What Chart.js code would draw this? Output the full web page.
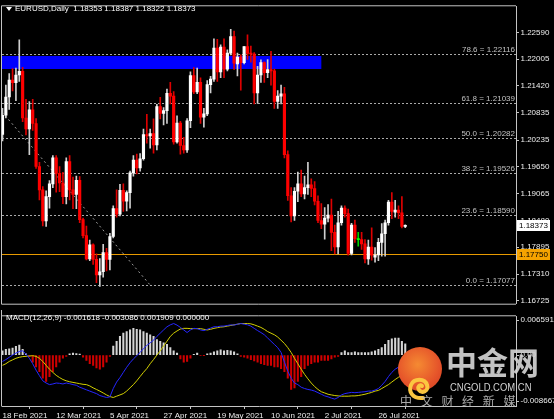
<!DOCTYPE html>
<html><head><meta charset="utf-8">
<script src="https://cdn.jsdelivr.net/npm/chart.js@4.4.1/dist/chart.umd.min.js"></script>
<style>
html,body{margin:0;padding:0;background:#000;}
#wrap{position:relative;width:554px;height:419px;overflow:hidden;background:#000;font-family:'Liberation Sans',Arial,sans-serif;}
canvas{position:absolute;left:0;}
.t{position:absolute;white-space:pre;color:#fff;font-size:8px;line-height:10px;}
.tri{position:absolute;left:6px;top:7px;width:0;height:0;border-left:3.5px solid transparent;border-right:3.5px solid transparent;border-top:4px solid #fff;}
.wm{position:absolute;white-space:pre;}
</style></head><body>
<div id="wrap">
<canvas id="main" width="554" height="310" style="top:0"></canvas>
<canvas id="macd" width="554" height="109" style="top:310px"></canvas>
<div class="tri"></div>
<div class="t" style="left:15px;top:4px">EURUSD,Daily  1.18353 1.18387 1.18322 1.18373</div>
<div class="t" style="left:6px;top:313px">MACD(12,26,9) -0.001618 -0.003086 0.001909 0.000000</div>
<div class="wm" style="left:398px;top:347px;width:44px;height:44px;border-radius:50%;background:radial-gradient(circle at 45% 40%,#f58a32 0%,#e5532a 60%,#cc3a1f 100%);">
<svg width="44" height="44" viewBox="0 0 44 44"><path d="M25 33 C15 34 10 27 13 20 C16 13 27 13 29 20 C31 26 24 29 21 25 C19 22 22 19 24 21" stroke="#fbc640" stroke-width="4" fill="none" stroke-linecap="round"/></svg>
</div>
<div class="wm" style="left:446px;top:344px;font-family:'Noto Sans CJK SC';font-weight:bold;font-size:31px;line-height:34px;color:rgba(210,210,210,0.92);">中金网</div>
<div class="wm" style="left:450px;top:381px;font-family:'Liberation Sans';font-size:11px;line-height:12px;color:#d0d0d0;transform:scaleX(0.86);transform-origin:left top;">CNGOLD.COM.CN</div>
<div class="wm" style="left:400px;top:394px;font-family:'Noto Sans CJK SC';font-size:12px;line-height:14px;letter-spacing:3px;color:rgba(190,190,190,0.9);">中 文 财 经 新 媒</div>
</div>
<script>
// ---------- DATA ----------
const opens = [1.2036,1.2078,1.2118,1.2155,1.2149,1.2166,1.2174,1.2072,1.2048,1.2090,
1.2060,1.1966,1.1915,1.1847,1.1900,1.1928,1.1985,1.1951,1.1930,1.1900,
1.1977,1.1915,1.1905,1.1936,1.1850,1.1815,1.1764,1.1795,1.1763,1.1729,
1.1736,1.1778,1.1763,1.1813,1.1874,1.1862,1.1914,1.1890,1.1909,1.1952,
1.1980,1.1963,1.1983,1.2036,1.2033,1.2038,1.2013,1.2097,1.2082,1.2088,
1.2126,1.2120,1.2020,1.2061,1.2012,1.2002,1.2066,1.2165,1.2129,1.2150,
1.2074,1.2081,1.2145,1.2157,1.2225,1.2173,1.2227,1.2179,1.2214,1.2250,
1.2190,1.2205,1.2193,1.2228,1.2213,1.2212,1.2127,1.2166,1.2193,1.2171,
1.2178,1.2175,1.2108,1.2120,1.2125,1.1992,1.1902,1.1858,1.1912,1.1928,
1.1906,1.1920,1.1926,1.1918,1.1890,1.1848,1.1840,1.1853,1.1860,1.1822,
1.1790,1.1843,1.1875,1.1863,1.1776,1.1838,1.1806,1.1806,1.1797,1.1764,
1.1790,1.1768,1.1773,1.1800,1.1819,1.1843,1.1888,1.1866,1.1871,1.1865,
1.18353];
const highs = [1.2093,1.2144,1.2169,1.2180,1.2181,1.2243,1.2183,1.2113,1.2108,1.2113,
1.2071,1.1975,1.1922,1.1913,1.1935,1.1990,1.1990,1.1966,1.1953,1.1985,
1.1990,1.1943,1.1945,1.1944,1.1853,1.1836,1.1805,1.1797,1.1775,1.1765,
1.1796,1.1787,1.1820,1.1880,1.1915,1.1927,1.1928,1.1913,1.1956,1.1990,
1.1993,1.1994,1.2048,1.2080,1.2048,1.2070,1.2102,1.2117,1.2095,1.2135,
1.2150,1.2130,1.2077,1.2065,1.2030,1.2071,1.2173,1.2182,1.2181,1.2160,
1.2093,1.2154,1.2163,1.2245,1.2244,1.2232,1.2245,1.2221,1.2266,1.2262,
1.2214,1.2210,1.2228,1.2254,1.2229,1.2215,1.2185,1.2199,1.2195,1.2200,
1.2218,1.2179,1.2132,1.2144,1.2139,1.2000,1.1920,1.1920,1.1954,1.1958,
1.1945,1.1975,1.1939,1.1933,1.1902,1.1885,1.1876,1.1883,1.1895,1.1838,
1.1868,1.1880,1.1880,1.1873,1.1842,1.1849,1.1822,1.1822,1.1806,1.1805,
1.1832,1.1789,1.1809,1.1841,1.1849,1.1892,1.1909,1.1892,1.1880,1.1900,
1.18387];
const lows = [1.2022,1.2072,1.2091,1.2131,1.2110,1.2152,1.2064,1.2035,1.1992,1.2045,
1.1962,1.1893,1.1836,1.1835,1.1875,1.1920,1.1910,1.1911,1.1885,1.1884,
1.1893,1.1874,1.1874,1.1843,1.1810,1.1762,1.1760,1.1752,1.1712,1.1704,
1.1724,1.1738,1.1740,1.1810,1.1855,1.1858,1.1868,1.1869,1.1875,1.1945,
1.1950,1.1956,1.1980,1.2017,1.2006,1.1995,1.2002,1.2070,1.2057,1.2060,
1.2103,1.2015,1.2017,1.1993,1.1995,1.1997,1.2051,1.2125,1.2125,1.2060,
1.2052,1.2077,1.2127,1.2152,1.2152,1.2160,1.2160,1.2175,1.2210,1.2178,
1.2164,1.2133,1.2190,1.2200,1.2194,1.2103,1.2104,1.2150,1.2150,1.2160,
1.2144,1.2093,1.2093,1.2103,1.1985,1.1892,1.1845,1.1848,1.1889,1.1900,
1.1895,1.1905,1.1900,1.1882,1.1843,1.1830,1.1807,1.1845,1.1782,1.1775,
1.1775,1.1838,1.1855,1.1772,1.1773,1.1800,1.1792,1.1785,1.1755,1.1752,
1.1761,1.1757,1.1760,1.1770,1.1770,1.1838,1.1852,1.1855,1.1852,1.1832,
1.18322];
const closes = [1.2078,1.2118,1.2155,1.2149,1.2166,1.2174,1.2072,1.2048,1.2090,1.2060,
1.1966,1.1915,1.1847,1.1900,1.1928,1.1985,1.1951,1.1930,1.1900,1.1977,
1.1915,1.1905,1.1936,1.1850,1.1815,1.1764,1.1795,1.1763,1.1729,1.1736,
1.1778,1.1763,1.1813,1.1874,1.1862,1.1914,1.1890,1.1909,1.1952,1.1980,
1.1963,1.1983,1.2036,1.2033,1.2038,1.2013,1.2097,1.2082,1.2088,1.2126,
1.2120,1.2020,1.2061,1.2012,1.2002,1.2066,1.2165,1.2129,1.2150,1.2074,
1.2081,1.2145,1.2157,1.2225,1.2173,1.2227,1.2179,1.2214,1.2250,1.2192,
1.2205,1.2193,1.2228,1.2213,1.2212,1.2127,1.2166,1.2193,1.2171,1.2178,
1.2175,1.2108,1.2120,1.2125,1.1992,1.1902,1.1858,1.1912,1.1928,1.1906,
1.1920,1.1926,1.1918,1.1890,1.1848,1.1840,1.1853,1.1860,1.1822,1.1790,
1.1843,1.1875,1.1863,1.1776,1.1838,1.1808,1.1806,1.1797,1.1764,1.1790,
1.1772,1.1773,1.1800,1.1819,1.1843,1.1888,1.1868,1.1871,1.1865,1.1835,
1.18373];

const macdMain = [-0.00109,-0.00077,-0.00038,0.00000,0.00033,0.00060,0.00071,0.00016,-0.00055,-0.00148,
-0.00257,-0.00350,-0.00438,-0.00476,-0.00503,-0.00492,-0.00476,-0.00481,-0.00492,-0.00476,
-0.00487,-0.00503,-0.00514,-0.00547,-0.00569,-0.00591,-0.00613,-0.00635,-0.00656,-0.00689,
-0.00706,-0.00722,-0.00711,-0.00569,-0.00459,-0.00383,-0.00295,-0.00208,-0.00131,-0.00066,
-0.00011,0.00044,0.00109,0.00164,0.00208,0.00252,0.00317,0.00372,0.00427,0.00481,
0.00514,0.00536,0.00509,0.00470,0.00427,0.00383,0.00427,0.00454,0.00449,0.00427,
0.00416,0.00438,0.00459,0.00481,0.00481,0.00492,0.00492,0.00503,0.00514,0.00509,
0.00525,0.00536,0.00525,0.00514,0.00492,0.00454,0.00416,0.00383,0.00345,0.00290,
0.00235,0.00181,0.00126,0.00044,-0.00120,-0.00274,-0.00394,-0.00476,-0.00503,-0.00547,
-0.00569,-0.00585,-0.00596,-0.00613,-0.00640,-0.00667,-0.00695,-0.00711,-0.00733,-0.00749,
-0.00722,-0.00678,-0.00656,-0.00645,-0.00635,-0.00640,-0.00635,-0.00629,-0.00624,-0.00613,
-0.00613,-0.00596,-0.00569,-0.00514,-0.00449,-0.00366,-0.00295,-0.00241,-0.00205,-0.00178,
-0.00162];
const macdSignal = [-0.00175,-0.00148,-0.00109,-0.00082,-0.00055,-0.00038,-0.00027,-0.00022,-0.00016,-0.00011,
-0.00022,-0.00055,-0.00109,-0.00175,-0.00241,-0.00295,-0.00345,-0.00383,-0.00416,-0.00438,
-0.00454,-0.00465,-0.00476,-0.00487,-0.00498,-0.00503,-0.00525,-0.00558,-0.00585,-0.00613,
-0.00645,-0.00678,-0.00706,-0.00722,-0.00700,-0.00678,-0.00656,-0.00613,-0.00558,-0.00503,
-0.00438,-0.00366,-0.00295,-0.00230,-0.00148,-0.00077,0.00000,0.00071,0.00153,0.00235,
0.00317,0.00372,0.00410,0.00443,0.00454,0.00454,0.00449,0.00449,0.00449,0.00449,
0.00438,0.00427,0.00438,0.00454,0.00465,0.00476,0.00481,0.00492,0.00503,0.00514,
0.00525,0.00536,0.00536,0.00536,0.00531,0.00514,0.00492,0.00470,0.00438,0.00399,
0.00372,0.00345,0.00306,0.00252,0.00197,0.00126,0.00044,-0.00055,-0.00148,-0.00241,
-0.00328,-0.00405,-0.00476,-0.00536,-0.00585,-0.00624,-0.00645,-0.00667,-0.00678,-0.00689,
-0.00695,-0.00700,-0.00700,-0.00700,-0.00695,-0.00695,-0.00689,-0.00678,-0.00667,-0.00651,
-0.00635,-0.00613,-0.00602,-0.00569,-0.00536,-0.00503,-0.00459,-0.00416,-0.00377,-0.00345,
-0.00309];
const macdHist = [0.00071,0.00098,0.00104,0.00120,0.00148,0.00170,0.00098,0.00022,-0.00022,-0.00120,
-0.00202,-0.00284,-0.00394,-0.00449,-0.00366,-0.00284,-0.00202,-0.00120,-0.00055,-0.00022,
0.00022,0.00033,0.00027,0.00016,-0.00038,-0.00093,-0.00148,-0.00175,-0.00219,-0.00241,
-0.00202,-0.00120,-0.00022,0.00153,0.00235,0.00317,0.00372,0.00399,0.00427,0.00454,
0.00438,0.00427,0.00399,0.00372,0.00345,0.00317,0.00263,0.00235,0.00208,0.00181,
0.00126,0.00071,0.00033,-0.00066,-0.00120,-0.00109,-0.00055,0.00011,0.00033,-0.00011,
-0.00005,0.00022,0.00033,0.00055,0.00071,0.00088,0.00071,0.00082,0.00071,0.00055,
0.00022,-0.00022,-0.00038,-0.00055,-0.00077,-0.00098,-0.00120,-0.00148,-0.00164,-0.00175,
-0.00175,-0.00202,-0.00202,-0.00230,-0.00284,-0.00394,-0.00585,-0.00558,-0.00449,-0.00366,
-0.00230,-0.00175,-0.00148,-0.00120,-0.00120,-0.00093,-0.00093,-0.00093,-0.00066,-0.00038,
-0.00022,0.00044,0.00071,0.00044,0.00044,0.00055,0.00044,0.00044,0.00044,0.00044,
0.00055,0.00071,0.00098,0.00126,0.00181,0.00252,0.00274,0.00290,0.00290,0.00235,
0.00191];

const priceTicks = [1.22590,1.22005,1.21420,1.20835,1.20235,1.19650,1.19065,1.18480,1.17895,1.17310,1.16725];
const dateTickIdx = [0,16,32,48,64,80,96,112];
const dateLabels = ['18 Feb 2021','12 Mar 2021','5 Apr 2021','27 Apr 2021','19 May 2021','10 Jun 2021','2 Jul 2021','26 Jul 2021'];
const fibLevels = [78.6,61.8,50.0,38.2,23.6,0.0];
const fibPrices = [1.22116,1.21039,1.20282,1.19526,1.18590,1.17077];
const supportLevel = 1.17750;
const zoneStartIdx = -20, zoneEndIdx = 95;
const zoneHigh = 1.22082, zoneLow = 1.21786;
const trendStart = {x:-0.15, y:1.20854};
const trendEnd = {x:43.9, y:1.17077};
const macdTickLabels = ['0.006591','0.00','-0.008667'];
const macdMax = 0.006591, macdMin = -0.008667;
const priceMax = 1.23162, priceMin = 1.16661;
const xMin = -0.15, xMax = 153;

// ---------- CHARTS ----------
Chart.defaults.font.family = "'Liberation Sans', Arial, sans-serif";
Chart.defaults.font.size = 8;
Chart.defaults.color = '#ececec';

const idx = closes.map((_, i) => i);
const isDoji = i => Math.abs(closes[i] - opens[i]) < 0.00001;
const bodyColor = i => isDoji(i) ? '#00ff00' : (closes[i] > opens[i] ? '#ffffff' : '#ff0000');
const wickColor = i => isDoji(i) ? '#00d000' : (closes[i] > opens[i] ? '#cfcfcf' : '#dd0000');
const AX = '#c4c4c4';

const objPlugin = {
  id: 'objs',
  beforeDatasetsDraw(chart) {
    const {ctx, chartArea: a, scales: {x, y}} = chart;
    ctx.save();
    ctx.beginPath(); ctx.rect(a.left, a.top, a.right - a.left, a.bottom - a.top); ctx.clip();
    const rx1 = x.getPixelForValue(zoneStartIdx), rx2 = x.getPixelForValue(zoneEndIdx);
    const ry1 = Math.round(y.getPixelForValue(zoneHigh)), ry2 = Math.round(y.getPixelForValue(zoneLow));
    ctx.fillStyle = '#0000ff';
    ctx.fillRect(Math.max(rx1, a.left), ry1, rx2 - Math.max(rx1, a.left), ry2 - ry1);
    ctx.strokeStyle = '#aaaaaa'; ctx.lineWidth = 1; ctx.setLineDash([2, 2]);
    fibPrices.forEach(p => {
      const py = Math.round(y.getPixelForValue(p)) + 0.5;
      ctx.beginPath(); ctx.moveTo(a.left, py); ctx.lineTo(a.right, py); ctx.stroke();
    });
    ctx.strokeStyle = '#9a9a9a'; ctx.setLineDash([2, 3]);
    ctx.beginPath();
    ctx.moveTo(x.getPixelForValue(trendStart.x), y.getPixelForValue(trendStart.y));
    ctx.lineTo(x.getPixelForValue(trendEnd.x), y.getPixelForValue(trendEnd.y));
    ctx.stroke();
    ctx.setLineDash([]);
    const sy = Math.round(y.getPixelForValue(supportLevel)) + 0.5;
    ctx.strokeStyle = '#e89a00';
    ctx.beginPath(); ctx.moveTo(a.left, sy); ctx.lineTo(a.right, sy); ctx.stroke();
    ctx.fillStyle = '#c2c2c2'; ctx.font = "8px 'Liberation Sans'"; ctx.textAlign = 'right'; ctx.textBaseline = 'alphabetic';
    fibPrices.forEach((p, i) => {
      const py = Math.round(y.getPixelForValue(p));
      ctx.fillText(fibLevels[i].toFixed(1) + ' = ' + p.toFixed(5), a.right - 1, py - 2);
    });
    ctx.restore();
  },
  afterDraw(chart) {
    const {ctx, chartArea: a, scales: {y}} = chart;
    ctx.save();
    ctx.strokeStyle = AX; ctx.lineWidth = 1;
    ctx.beginPath();
    ctx.moveTo(1.5, a.top - 0.5); ctx.lineTo(1.5, a.bottom + 0.5);
    ctx.moveTo(1.5, a.top - 0.5); ctx.lineTo(a.right, a.top - 0.5);
    ctx.moveTo(1.5, a.bottom + 0.5); ctx.lineTo(a.right, a.bottom + 0.5);
    ctx.stroke();
    ctx.font = "8px 'Liberation Sans'"; ctx.textAlign = 'left'; ctx.textBaseline = 'middle';
    const boxes = [[closes[closes.length - 1], '#ffffff'], [supportLevel, '#f5a300']];
    boxes.forEach(([v, col]) => {
      const py = Math.round(y.getPixelForValue(v));
      ctx.fillStyle = col; ctx.fillRect(a.right + 1, py - 5, 33, 11);
      ctx.fillStyle = '#000'; ctx.fillText(v.toFixed(5), a.right + 3, py + 0.5);
    });
    ctx.restore();
  }
};

new Chart(document.getElementById('main'), {
  type: 'bar',
  data: {
    datasets: [
      { label: 'wick', data: idx.map(i => ({x: i, y: [lows[i], highs[i]]})),
        backgroundColor: c => wickColor(c.dataIndex), barThickness: 1, grouped: false, order: 2, borderWidth: 0 },
      { label: 'body', data: idx.map(i => ({x: i, y: [opens[i], closes[i]]})),
        backgroundColor: c => bodyColor(c.dataIndex), barThickness: 2.5, minBarLength: 1, grouped: false, order: 1, borderWidth: 0 }
    ]
  },
  options: {
    responsive: false, animation: false, devicePixelRatio: 1,
    layout: { padding: { left: 2, top: 2, right: 0, bottom: 1 } },
    plugins: { legend: { display: false }, tooltip: { enabled: false } },
    scales: {
      x: { type: 'linear', min: xMin, max: xMax, display: false, offset: false },
      y: { position: 'right', min: priceMin, max: priceMax,
        afterBuildTicks: s => { s.ticks = priceTicks.map(v => ({value: v})); },
        afterFit: s => { s.width = 38; },
        ticks: { color: '#ececec', padding: 1.5, autoSkip: false, callback: v => Number(v).toFixed(5) },
        grid: { drawOnChartArea: false, drawTicks: true, tickLength: 3, color: AX },
        border: { display: true, color: AX } }
    }
  },
  plugins: [objPlugin]
});

const framePlugin = {
  id: 'frame2',
  afterDraw(chart) {
    const {ctx, chartArea: a} = chart;
    ctx.save();
    ctx.strokeStyle = AX; ctx.lineWidth = 1;
    ctx.beginPath();
    ctx.moveTo(1.5, 0); ctx.lineTo(1.5, a.bottom + 0.5);
    ctx.moveTo(1.5, a.top - 0.5); ctx.lineTo(a.right, a.top - 0.5);
    ctx.stroke();
    ctx.restore();
  }
};

new Chart(document.getElementById('macd'), {
  type: 'bar',
  data: {
    datasets: [
      { type: 'line', label: 'MACD', data: idx.map(i => ({x: i, y: macdMain[i]})),
        borderColor: '#2626ff', borderWidth: 1, pointRadius: 0, tension: 0, order: 1 },
      { type: 'line', label: 'Signal', data: idx.map(i => ({x: i, y: macdSignal[i]})),
        borderColor: '#d2cf00', borderWidth: 1, pointRadius: 0, tension: 0, order: 2 },
      { type: 'bar', label: 'Hist', data: idx.map(i => ({x: i, y: macdHist[i]})),
        backgroundColor: c => (macdHist[c.dataIndex] >= 0 ? '#d4d4d4' : '#d00000'),
        barThickness: 1.4, grouped: false, order: 3, borderWidth: 0 }
    ]
  },
  options: {
    responsive: false, animation: false, devicePixelRatio: 1,
    layout: { padding: { left: 2, top: 3, right: 0, bottom: 0 } },
    plugins: { legend: { display: false }, tooltip: { enabled: false } },
    scales: {
      x: { type: 'linear', min: xMin, max: xMax, offset: false,
        afterBuildTicks: s => { s.ticks = dateTickIdx.map(v => ({value: v})); },
        afterFit: s => { s.height = 13; },
        ticks: { color: '#ececec', align: 'start', maxRotation: 0, minRotation: 0, autoSkip: false, padding: 2,
          callback: (v, i) => dateLabels[i] },
        grid: { drawOnChartArea: false, drawTicks: true, tickLength: 3, color: AX },
        border: { display: true, color: AX } },
      y: { position: 'right', min: macdMin, max: macdMax,
        afterBuildTicks: s => { const per = (macdMax - macdMin) / 93; s.ticks = [{value: macdMax - 4 * per}, {value: 0}, {value: macdMin + 5 * per}]; },
        afterFit: s => { s.width = 38; },
        ticks: { color: '#ececec', padding: 1.5, autoSkip: false, callback: (v, i) => macdTickLabels[i] },
        grid: { drawOnChartArea: false, drawTicks: true, tickLength: 3, color: AX },
        border: { display: true, color: AX } }
    }
  },
  plugins: [framePlugin]
});
</script>
</body></html>
